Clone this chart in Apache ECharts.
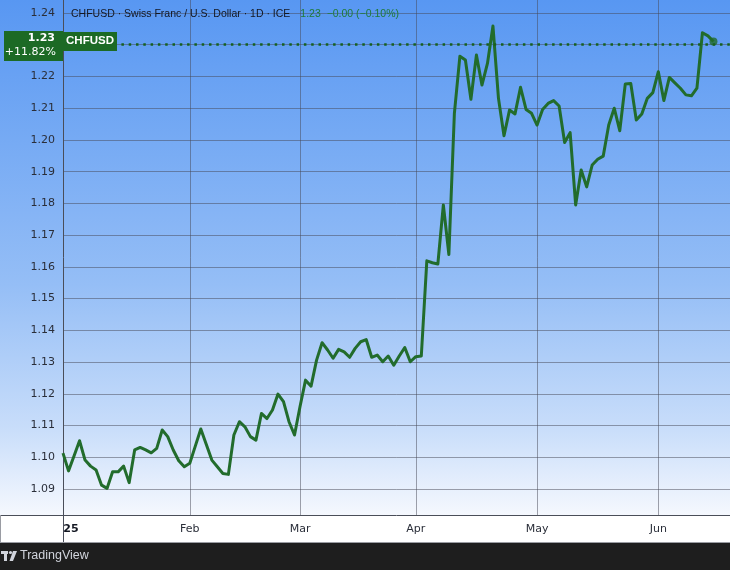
<!DOCTYPE html>
<html><head><meta charset="utf-8">
<script src="https://cdn.jsdelivr.net/npm/echarts@6/dist/echarts.min.js"></script>
<style>html,body{margin:0;padding:0;background:#fff}#c{width:730px;height:570px}</style>
</head><body><div id="c"></div>
<script>
// ---- data ----
const firstDate = '2025-01-01';
const categoryCount = 122; // weekdays incl. a little empty space on the right
const monthLabels = {'01':'25','02':'Feb','03':'Mar','04':'Apr','05':'May','06':'Jun'};
const janValues = [1.1013,1.0957,1.1004,1.1052,1.0991,1.0972,1.0960,1.0912,1.0902,1.0954,1.0954,1.0972,1.0920,1.1023,1.1031,1.1023,1.1014,1.1028,1.1086,1.1065,1.1023,1.0989,1.0970];
const febValues = [1.0981,1.1035,1.1089,1.1040,1.0991,1.0970,1.0949,1.0946,1.1070,1.1112,1.1096,1.1065,1.1054,1.1138,1.1122,1.1149,1.1199,1.1175,1.1112,1.1070];
const marValues = [1.1160,1.1243,1.1224,1.1306,1.1361,1.1338,1.1312,1.1340,1.1332,1.1315,1.1343,1.1364,1.1371,1.1315,1.1322,1.1301,1.1319,1.1290,1.1319,1.1346,1.1301];
const aprValues = [1.1317,1.1319,1.1619,1.1613,1.1609,1.1795,1.1639,1.2084,1.2264,1.2252,1.2128,1.2268,1.2173,1.2241,1.2359,1.2131,1.2013,1.2094,1.2082,1.2166,1.2096,1.2084];
const mayValues = [1.2047,1.2096,1.2115,1.2124,1.2107,1.1992,1.2023,1.1795,1.1905,1.1852,1.1921,1.1939,1.1949,1.2047,1.2100,1.2029,1.2176,1.2178,1.2063,1.2082,1.2131,1.2149];
const junValues = [1.2215,1.2124,1.2197,1.2180,1.2163,1.2142,1.2139,1.2163,1.2338,1.2328,1.2310];
const yTicks = [1.09,1.10,1.11,1.12,1.13,1.14,1.15,1.16,1.17,1.18,1.19,1.20,1.21,1.22,1.23,1.24];
const headerText = 'CHFUSD · Swiss Franc / U.S. Dollar · 1D · ICE';
const headerQuote = '1.23  −0.00 (−0.10%)';
const lastPriceLabel = '1.23';
const changeLabel = '+11.82%';
const symbolLabel = 'CHFUSD';

const values = [].concat(janValues, febValues, marValues, aprValues, mayValues, junValues);
const categories = [];
{
  let t = Date.parse(firstDate + 'T00:00:00Z');
  while (categories.length < categoryCount) {
    const d = new Date(t);
    const wd = d.getUTCDay();
    if (wd !== 0 && wd !== 6) categories.push(d.toISOString().slice(0, 10));
    t += 86400000;
  }
}
function isMonthStart(i) {
  return i === 0 || categories[i].slice(5, 7) !== categories[i - 1].slice(5, 7);
}
const lastIdx = values.length - 1;
const lastVal = values[lastIdx];

const lineColor = '#226c2c';
const boxGreen = '#1c6a25';
const gridColor = 'rgba(70,72,85,0.5)';
const axisColor = '#4a4e59';
const textColor = '#2a2e39';

const chart = echarts.init(document.getElementById('c'), null, {renderer: 'canvas'});
chart.setOption({
  animation: false,
  backgroundColor: {
    type: 'linear', x: 0, y: 0, x2: 0, y2: 1,
    colorStops: [
      {offset: 0, color: '#5897f2'},
      {offset: 0.5, color: '#95bef6'},
      {offset: 0.75, color: '#c8ddfa'},
      {offset: 0.9035, color: '#f5f8fe'},
      {offset: 0.9036, color: '#ffffff'},
      {offset: 0.9525, color: '#ffffff'},
      {offset: 0.953, color: '#1e1e1e'},
      {offset: 1, color: '#1e1e1e'}
    ]
  },
  grid: {left: 63, right: -2, top: 0, bottom: 55, containLabel: false},
  xAxis: {
    type: 'category', data: categories, boundaryGap: false,
    axisLine: {show: true, lineStyle: {color: axisColor, width: 1}},
    axisTick: {show: true, interval: (i) => i === 0, length: 28, lineStyle: {color: axisColor}},
    axisLabel: {
      interval: (i) => isMonthStart(i),
      formatter: (v, i) => i === 0 ? '{yr|' + monthLabels[v.slice(5, 7)] + '}' : monthLabels[v.slice(5, 7)],
      margin: 9, color: textColor, fontFamily: 'DejaVu Sans', fontSize: 11,
      rich: {yr: {fontWeight: 'bold', padding: [0, 0, 0, 16], fontSize: 11, fontFamily: 'DejaVu Sans', color: '#131722'}}
    },
    splitLine: {show: true, interval: (i) => i > 0 && isMonthStart(i), lineStyle: {color: gridColor, width: 1}}
  },
  yAxis: {
    type: 'value', min: 1.0818, max: 1.2441, position: 'left',
    axisLine: {show: true, lineStyle: {color: axisColor, width: 1}},
    axisTick: {show: false, customValues: yTicks},
    axisLabel: {customValues: yTicks, formatter: (v) => v.toFixed(2), margin: 8, color: textColor, fontFamily: 'DejaVu Sans', fontSize: 11},
    splitLine: {show: true, lineStyle: {color: gridColor, width: 1}}
  },
  series: [
    {
      type: 'line', data: values, symbol: 'none', z: 3,
      lineStyle: {color: lineColor, width: 3, join: 'round'},
      markLine: {
        silent: true, symbol: 'none', label: {show: false},
        lineStyle: {type: [2.5, 4.8], color: '#17601f', width: 2.5, opacity: 1},
        data: [{yAxis: lastVal}]
      }
    },
    {
      type: 'scatter', data: [[lastIdx, lastVal]], symbol: 'circle', symbolSize: 8, z: 4,
      itemStyle: {color: lineColor}
    }
  ]
});

const yPix = chart.convertToPixel({yAxisIndex: 0}, lastVal);
chart.setOption({
  graphic: [
    {type: 'text', z: 50, left: 71, top: 8,
      style: {text: '{a|' + headerText + '}   {b|' + headerQuote + '}',
        rich: {
          a: {fontFamily: 'Liberation Sans', fontSize: 10.5, fill: '#131722'},
          b: {fontFamily: 'Liberation Sans', fontSize: 10.5, fill: '#1f7a3a'}
        }}},
    {type: 'rect', z: 50, shape: {x: 4, y: Math.round(yPix) - 11, width: 59, height: 30}, style: {fill: boxGreen}},
    {type: 'text', z: 51, x: 55, y: yPix - 3,
      style: {text: lastPriceLabel, align: 'right', verticalAlign: 'middle', fill: '#ffffff', fontFamily: 'DejaVu Sans', fontSize: 11, fontWeight: 'bold'}},
    {type: 'text', z: 51, x: 56, y: yPix + 11,
      style: {text: changeLabel, align: 'right', verticalAlign: 'middle', fill: '#ffffff', fontFamily: 'DejaVu Sans', fontSize: 11}},
    {type: 'rect', z: 50, shape: {x: 63, y: Math.round(yPix) - 10, width: 54, height: 19}, style: {fill: boxGreen}},
    {type: 'text', z: 51, x: 90, y: yPix - 0.5,
      style: {text: symbolLabel, align: 'center', verticalAlign: 'middle', fill: '#ffffff', fontFamily: 'Liberation Sans', fontSize: 11.5, fontWeight: 'bold'}},
    // frame lines of the lower axis band
    {type: 'line', z: 20, shape: {x1: 0, y1: 515.5, x2: 63, y2: 515.5}, style: {stroke: axisColor, lineWidth: 1}},
    {type: 'line', z: 20, shape: {x1: 0, y1: 542.5, x2: 730, y2: 542.5}, style: {stroke: '#9a9ca3', lineWidth: 1}},
    {type: 'line', z: 20, shape: {x1: 0.5, y1: 515, x2: 0.5, y2: 543}, style: {stroke: '#9a9ca3', lineWidth: 1}},
    // TradingView footer logo
    {type: 'rect', z: 20, shape: {x: 1, y: 551, width: 7, height: 3}, style: {fill: '#d1d4dc'}},
    {type: 'rect', z: 20, shape: {x: 4, y: 551, width: 3, height: 10}, style: {fill: '#d1d4dc'}},
    {type: 'circle', z: 20, shape: {cx: 10.5, cy: 552.5, r: 1.6}, style: {fill: '#d1d4dc'}},
    {type: 'polygon', z: 20, shape: {points: [[13, 551], [17, 551], [13, 561], [9.5, 561]]}, style: {fill: '#d1d4dc'}},
    {type: 'text', z: 20, x: 20, y: 556,
      style: {text: 'TradingView', verticalAlign: 'middle', fill: '#d1d4dc', fontFamily: 'Liberation Sans', fontSize: 12.5}}
  ]
});
</script>
</body></html>
